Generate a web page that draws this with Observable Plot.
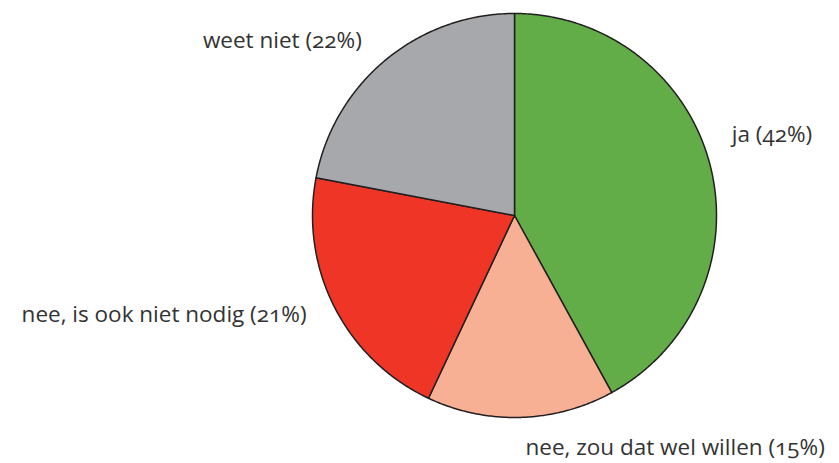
<!DOCTYPE html>
<html>
<head>
<meta charset="utf-8">
<script src="https://cdn.jsdelivr.net/npm/d3@7"></script>
<script src="https://cdn.jsdelivr.net/npm/@observablehq/plot@0.6"></script>
<style>
  html, body { margin: 0; padding: 0; background: #fff; }
  #chart svg { display: block; }
  #chart text { font-variant-numeric: oldstyle-nums; font-feature-settings: "onum" 1; }
</style>
</head>
<body>
<div id="chart"></div>
<script>
const categories = ["ja", "nee, zou dat wel willen", "nee, is ook niet nodig", "weet niet"];
const values = [42, 15, 21, 22];
const colors = ["#62ad47", "#f8b094", "#ee3526", "#a7a8ab"];
const labelNudgeX = [2, 4, -10, -11];
const labelNudgeY = [-25, 10, -2, -3];

const total = d3.sum(values);
const slices = [];
let acc = 0;
values.forEach((v, i) => {
  const a0 = acc / total * 2 * Math.PI;
  acc += v;
  const a1 = acc / total * 2 * Math.PI;
  const pts = [{x: 0, y: 0}];
  const n = Math.max(2, Math.ceil((a1 - a0) / (Math.PI / 360)));
  for (let k = 0; k <= n; k++) {
    const a = a0 + (a1 - a0) * k / n;
    pts.push({x: Math.sin(a), y: Math.cos(a)});
  }
  pts.push({x: 0, y: 0});
  const mid = (a0 + a1) / 2;
  slices.push({cat: categories[i], value: v, color: colors[i], pts, mid});
});

const marks = [];
slices.forEach(s => {
  marks.push(Plot.line(s.pts, {x: "x", y: "y", fill: s.color, stroke: "#231f20", strokeWidth: 1.5, strokeLinejoin: "round", curve: "linear"}));
});
slices.forEach((s, i) => {
  const r = 1.1;
  const lx = Math.sin(s.mid) * r, ly = Math.cos(s.mid) * r;
  const anchor = Math.abs(lx) < 0.2 ? "start" : (lx > 0 ? "start" : "end");
  marks.push(Plot.text([{x: lx, y: ly, t: `${s.cat} (${s.value}%)`}], {
    x: "x", y: "y", text: "t", textAnchor: anchor,
    dx: labelNudgeX[i], dy: labelNudgeY[i],
    fontSize: 22.5, fill: "#333333", fontFamily: "'Open Sans', sans-serif"
  }));
});

const chart = Plot.plot({
  width: 839,
  height: 463,
  marginLeft: 312,
  marginRight: 123,
  marginTop: 13,
  marginBottom: 46,
  x: {domain: [-1, 1], axis: null},
  y: {domain: [-1, 1], axis: null},
  style: {background: "#fff", overflow: "visible"},
  marks
});
document.getElementById("chart").appendChild(chart);
</script>
</body>
</html>
